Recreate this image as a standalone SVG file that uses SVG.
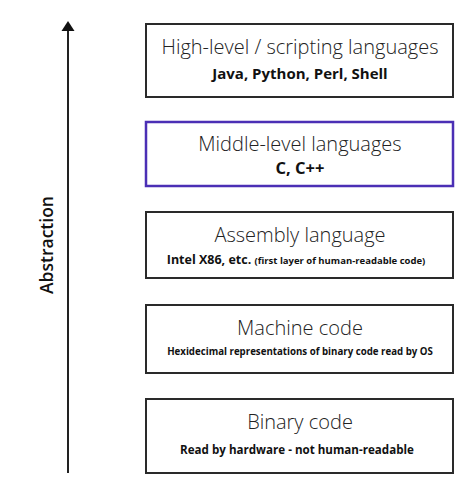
<svg xmlns="http://www.w3.org/2000/svg" width="474" height="497" viewBox="0 0 474 497">
<style>
.box{fill:#fff;stroke:#2a2a2a;stroke-width:2}
.hl{stroke:#4b2fb5;stroke-width:2.5}
.t{font-family:"Open Sans","Noto Sans",sans-serif;font-weight:300;font-size:20px;fill:#222;text-anchor:middle}
.s{font-family:"Open Sans","Noto Sans",sans-serif;font-weight:700;fill:#111;text-anchor:middle}
.ax{font-family:"Open Sans","Noto Sans",sans-serif;font-weight:600;font-size:17.5px;fill:#111;text-anchor:middle}
</style>
<rect width="474" height="497" fill="#fff"/>
<g id="connectors">
<line x1="68" y1="473" x2="68" y2="28" stroke="#222" stroke-width="2"/>
<path d="M61.5,31 L68,21 L74.5,31 Z" fill="#111"/>
</g>
<text class="ax" transform="translate(53,245) rotate(-90)">Abstraction</text>
<g id="high">
<rect class="box" x="146" y="24" width="307" height="73"/>
<text class="t" x="300" y="54">High-level / scripting languages</text>
<text class="s" x="300" y="79" font-size="15">Java, Python, Perl, Shell</text>
</g>
<g id="middle">
<rect class="box hl" x="146" y="122" width="307" height="64"/>
<text class="t" x="300" y="151">Middle-level languages</text>
<text class="s" x="300" y="173.5" font-size="16.5">C, C++</text>
</g>
<g id="assembly">
<rect class="box" x="146" y="212" width="307" height="66"/>
<text class="t" x="300" y="242">Assembly language</text>
<text class="s" x="296" y="264" font-size="12.5">Intel X86, etc. <tspan font-size="9.5">(first layer of human-readable code)</tspan></text>
</g>
<g id="machine">
<rect class="box" x="146" y="305" width="307" height="68"/>
<text class="t" x="300" y="335">Machine code</text>
<text class="s" x="300" y="355" font-size="9.7">Hexidecimal representations of binary code read by OS</text>
</g>
<g id="binary">
<rect class="box" x="146" y="399" width="307" height="74"/>
<text class="t" x="300" y="429">Binary code</text>
<text class="s" x="297" y="454" font-size="11.6">Read by hardware - not human-readable</text>
</g>
</svg>
